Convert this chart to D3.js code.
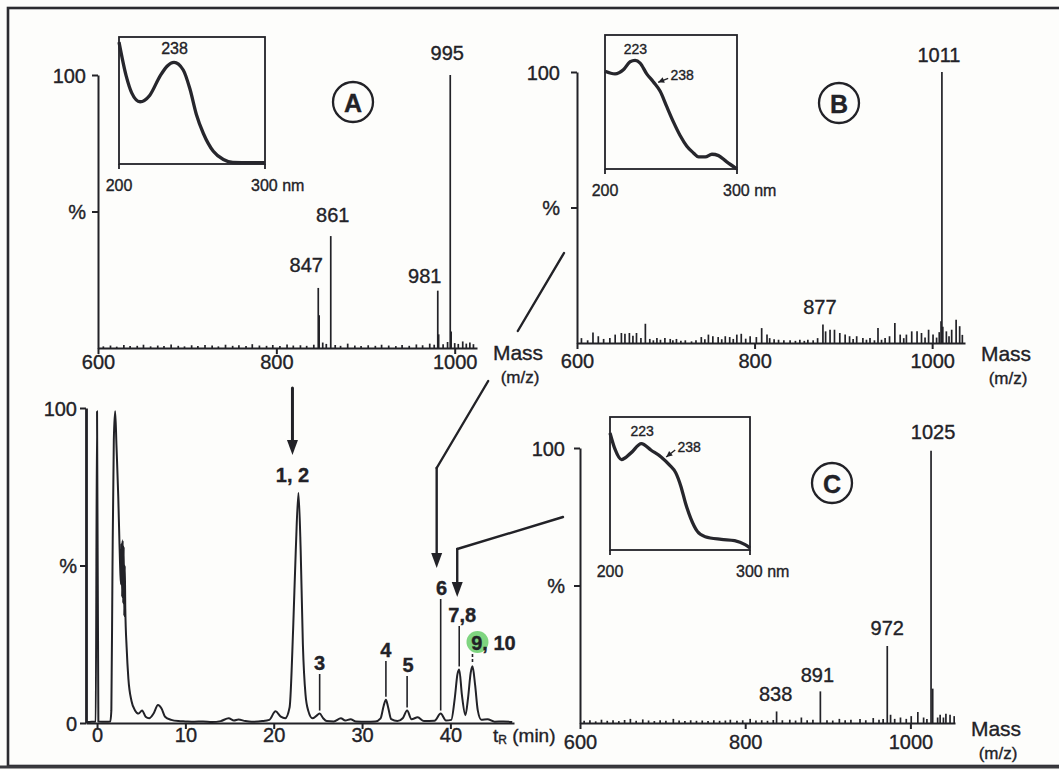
<!DOCTYPE html>
<html>
<head>
<meta charset="utf-8">
<script src="https://cdn.jsdelivr.net/npm/d3@7"></script>
<style>
  html, body { margin: 0; padding: 0; background: #fdfdfb; }
  svg { display: block; }
  text { font-family: "Liberation Sans", Arial, Helvetica, sans-serif; fill: #222227; stroke: #222227; stroke-width: 0.35px; }
</style>
</head>
<body>
<svg id="fig" width="1059" height="770"></svg>
<script>
// ---------------- Data ----------------
// HPLC chromatogram: retention time (min) and relative abundance (%)
const chromTime = [-1.25, -0.6, -0.15, 0, 0.15, 1.0, 1.5, 1.62, 1.75, 1.9, 2.05, 2.2, 2.4, 2.55, 2.65,
  2.72, 2.78, 2.84, 2.9, 2.96, 3.02, 3.08, 3.14, 3.2, 3.35, 3.55, 3.9, 4.3, 4.7, 5.1, 5.5, 5.9, 6.4, 6.9, 7.3,
  7.7, 8.4, 9.2, 10, 11, 12, 13, 14, 14.9, 15.5, 16, 16.8, 17.5, 18.7, 19.5, 20.2, 20.8, 21.3, 21.8, 22.2,
  22.5, 22.8, 23.05, 23.3, 23.6, 23.9, 24.4, 24.8, 25.2, 25.6, 26, 26.8, 27.6, 28.1, 28.7, 29.3, 30.5, 31.5,
  32.1, 32.45, 32.7, 32.95, 33.3, 34, 34.6, 35.1, 35.6, 36.3, 37, 38.2, 38.9, 39.5, 40.1, 40.5, 40.8, 41.0,
  41.3, 41.7, 42.0, 42.3, 42.5, 42.8, 43.1, 43.5, 44.2, 45, 46, 47];
const chromAbund = [0.3, 0.4, 0.5, 99, 0.5, 0.4, 0.5, 4, 50, 90, 99, 88, 72, 56, 47,
  44, 57, 40, 58, 38, 56, 34, 50, 36, 24, 14, 7, 4, 3, 4, 2, 1.5, 3, 5.7, 4.6,
  2, 1, 0.6, 0.5, 0.4, 0.5, 0.3, 0.6, 1.5, 0.8, 1.1, 0.6, 0.4, 0.6, 1, 3.7, 2, 1.5, 5, 30,
  55, 73, 55, 25, 9, 4, 1.5, 2.2, 3, 1.5, 0.6, 0.5, 1.5, 0.8, 1.2, 0.5, 0.4, 0.5,
  1.5, 5.5, 7.4, 5, 1.2, 0.6, 1.5, 4, 1.2, 1.8, 0.6, 0.7, 3, 0.8, 1, 8, 15.5, 17,
  9, 2.5, 8, 16, 18, 12, 4, 1, 1.2, 0.4, 0.5, 0.3];
const chromTicks = [0, 10, 20, 30, 40];
const peakNames = ["1, 2", "3", "4", "5", "6", "7,8", "9, 10"];
const peakTimes = [22.8, 25.2, 32.7, 35.1, 38.9, 41.0, 42.5];
const peakAbund = [73, 3, 7.4, 4, 3, 17, 18];

// Mass spectra: m/z and relative intensity (%)
const massTicks = [600, 800, 1000];

const specA_mz = [606, 614, 621, 629, 636, 644, 651, 659, 667, 674, 682, 690, 697, 705, 712, 720, 728, 735,
  743, 751, 758, 766, 773, 781, 789, 796, 804, 812, 819, 827, 834, 842, 847, 848, 852, 856, 861, 866, 872,
  880, 888, 895, 903, 911, 918, 926, 934, 941, 949, 957, 964, 972, 977, 981, 982, 987, 992, 995, 996, 1000,
  1004, 1009, 1013, 1017, 1021];
const specA_int = [0.6, 0.9, 0.5, 1.1, 0.7, 0.8, 1.2, 0.6, 0.9, 0.7, 1.3, 0.8, 0.6, 1.0, 0.7, 1.1, 0.9, 0.6,
  1.2, 0.8, 1.0, 0.7, 1.4, 0.9, 0.8, 1.1, 0.7, 1.3, 0.9, 1.0, 0.8, 1.2, 22, 12, 2.0, 1.5, 41, 1.1, 0.8,
  1.6, 0.9, 0.7, 1.0, 0.8, 1.2, 0.9, 0.7, 1.1, 0.8, 1.3, 1.0, 1.6, 1.2, 21, 5, 1.4, 2.2, 100, 6, 1.8,
  1.5, 2.4, 1.6, 2.0, 1.4];
const specA_labels = [847, 861, 981, 995];

const specB_mz = [605, 612, 618, 624, 630, 637, 643, 650, 654, 659, 663, 667, 672, 677, 682, 686, 690, 694,
  699, 705, 708, 712, 717, 722, 729, 734, 740, 744, 748, 753, 759, 763, 767, 772, 776, 780, 785, 790, 795,
  802, 808, 814, 817, 822, 827, 833, 840, 846, 851, 856, 860, 866, 871, 877, 880, 885, 890, 896, 902, 907,
  911, 915, 922, 926, 930, 935, 939, 943, 947, 952, 958, 964, 968, 971, 977, 983, 988, 992, 996, 1001,
  1005, 1008, 1010, 1011, 1012, 1016, 1019, 1022, 1027, 1031, 1034];
const specB_int = [1.8, 1.0, 3.9, 2.5, 1.5, 1.8, 3.1, 3.7, 3.4, 3.7, 2.7, 3.7, 1.8, 7.1, 1.5, 1.0, 1.8, 1.2,
  1.8, 1.5, 1.0, 1.5, 0.8, 1.0, 0.6, 1.0, 2.2, 1.4, 3.1, 2.5, 2.2, 1.4, 2.5, 2.2, 1.5, 3.1, 3.4, 1.6, 2.5,
  2.2, 5.5, 3.1, 1.8, 1.4, 1.2, 1.0, 1.0, 0.8, 1.2, 0.8, 1.2, 1.0, 1.8, 6.8, 4.3, 4.9, 4.9, 3.7, 3.1, 2.5,
  1.5, 2.5, 1.8, 1.2, 1.8, 1.0, 5.5, 1.2, 1.8, 2.5, 7.4, 3.1, 1.8, 3.1, 4.3, 4.3, 3.7, 2.0, 4.9, 3.1,
  2.0, 4.0, 8.0, 100, 6.0, 4.3, 2.5, 4.9, 8.6, 6.2, 3.0];
const specB_labels = [877, 1011];

const specC_mz = [605, 612, 619, 626, 633, 640, 647, 654, 661, 668, 676, 683, 690, 697, 704, 713, 720, 727,
  734, 741, 748, 755, 762, 769, 776, 782, 790, 797, 806, 813, 820, 827, 834, 838, 845, 854, 861, 868, 875,
  882, 891, 899, 906, 914, 921, 928, 939, 946, 955, 962, 967, 972, 976, 981, 988, 995, 1001, 1009, 1016,
  1020, 1025, 1027, 1033, 1036, 1040, 1043, 1048, 1053];
const specC_int = [0.8, 1.0, 0.6, 1.2, 0.8, 1.0, 0.7, 1.1, 1.5, 0.8, 1.3, 0.9, 0.7, 1.0, 0.8, 1.5, 0.9, 0.7,
  1.0, 0.8, 0.9, 0.7, 1.0, 0.8, 0.9, 1.2, 0.8, 1.0, 1.5, 0.9, 1.0, 0.8, 1.1, 4.2, 1.0, 1.2, 0.9, 2.0, 1.0,
  1.2, 11.5, 1.0, 0.9, 1.5, 1.0, 1.2, 1.5, 1.0, 1.8, 1.2, 1.5, 28, 3.0, 1.5, 2.0, 1.5, 2.5, 4.0, 2.0,
  1.5, 99, 12.5, 2.0, 3.0, 2.0, 3.4, 3.0, 2.5];
const specC_labels = [838, 891, 972, 1025];

// UV spectra (200-300 nm), normalised absorbance
const uvA_nm  = [200, 205, 208.7, 214.4, 221, 228, 232.9, 237.7, 244, 248.6, 253, 257.8, 264.6, 271.5, 278, 290, 300];
const uvA_abs = [0.96, 0.69, 0.56, 0.49, 0.54, 0.69, 0.77, 0.80, 0.74, 0.59, 0.39, 0.24, 0.10, 0.035, 0.012, 0.01, 0.01];
const uvA_marks = [238];

const uvB_nm  = [200, 207.6, 213.9, 219, 222.8, 226.6, 231.6, 236.7, 241.8, 246.8, 251.9, 256.9, 262, 267, 270.9, 276, 281, 286, 292, 300];
const uvB_abs = [0.73, 0.71, 0.74, 0.80, 0.81, 0.79, 0.71, 0.65, 0.58, 0.465, 0.35, 0.25, 0.17, 0.12, 0.09, 0.09, 0.11, 0.10, 0.055, 0.0];
const uvB_marks = [223, 238];

const uvC_nm  = [200, 203.5, 208.2, 215, 222.4, 229.4, 236.5, 242.4, 247, 250.6, 254, 257.6, 262.4, 268, 279.5, 289, 296.5, 300];
const uvC_abs = [0.88, 0.76, 0.68, 0.73, 0.80, 0.75, 0.70, 0.64, 0.58, 0.48, 0.35, 0.24, 0.14, 0.10, 0.08, 0.07, 0.04, 0.015];
const uvC_marks = [223, 238];

// ---------------- Drawing ----------------
const INK = "#222227";
const svg = d3.select("#fig");
const FONT = 20;

// page frame
svg.append("rect").attr("x", 8).attr("y", 8).attr("width", 1080).attr("height", 758)
  .attr("fill", "#fdfdfb").attr("stroke", "#2b2b30").attr("stroke-width", 2.6);

function styleAxis(g) {
  g.selectAll("path.domain").attr("stroke", INK).attr("stroke-width", 2);
  g.selectAll(".tick line").attr("stroke", INK).attr("stroke-width", 2);
  g.selectAll(".tick text").attr("font-size", FONT).attr("fill", INK);
}

// ---- mass spectrum panels ----
function massPanel(cfg) {
  const x = d3.scaleLinear().domain(cfg.dom).range([cfg.x0, cfg.x1]);
  const y = d3.scaleLinear().domain([0, 100]).range([cfg.yBase, cfg.yTop]);
  const g = svg.append("g");

  const pts = d3.zip(cfg.mz, cfg.inten);
  g.append("g").selectAll("line").data(pts).join("line")
    .attr("x1", d => x(d[0])).attr("x2", d => x(d[0]))
    .attr("y1", y(0)).attr("y2", d => y(d[1]))
    .attr("stroke", INK).attr("stroke-width", 1.7);

  const ax = g.append("g").attr("transform", `translate(0,${cfg.yBase})`)
    .call(d3.axisBottom(x).tickValues(massTicks).tickSize(6).tickSizeOuter(0).tickFormat(d3.format("d")));
  styleAxis(ax);
  ax.selectAll(".tick text").attr("y", cfg.tickLabelDy).attr("dy", "0.35em");

  const ay = g.append("g").attr("transform", `translate(${cfg.x0},0)`)
    .call(d3.axisLeft(y).tickValues([50, 100]).tickSize(6).tickSizeOuter(0)
      .tickFormat(d => d === 100 ? "100" : "%"));
  styleAxis(ay);
  ay.selectAll(".tick text").attr("x", -cfg.yLabelPad).attr("dy", "0.35em");

  // m/z labels over peaks
  cfg.labels.forEach((m, i) => {
    const v = cfg.inten[cfg.mz.indexOf(m)];
    g.append("text").attr("x", x(m) + cfg.labelOff[i][0]).attr("y", y(v) + cfg.labelOff[i][1])
      .attr("text-anchor", "middle").attr("dominant-baseline", "central")
      .attr("font-size", FONT).text(m);
  });

  // axis title
  g.append("text").attr("x", cfg.x1 + 41).attr("y", cfg.yBase + cfg.titleDy)
    .attr("text-anchor", "middle").attr("dominant-baseline", "central")
    .attr("font-size", 21).text("Mass");
  g.append("text").attr("x", cfg.x1 + 43).attr("y", cfg.yBase + cfg.titleDy + 25)
    .attr("text-anchor", "middle").attr("dominant-baseline", "central")
    .attr("font-size", 17).text("(m/z)");

  // circled panel letter
  g.append("circle").attr("cx", cfg.letterPos[0]).attr("cy", cfg.letterPos[1]).attr("r", 20)
    .attr("fill", "none").attr("stroke", INK).attr("stroke-width", 2.3);
  g.append("text").attr("x", cfg.letterPos[0]).attr("y", cfg.letterPos[1] + 1)
    .attr("text-anchor", "middle").attr("dominant-baseline", "central")
    .attr("font-size", 25).attr("font-weight", "bold").text(cfg.letter);

  // UV inset
  const b = cfg.inset;
  const ux = d3.scaleLinear().domain([200, 300]).range([b.x0, b.x1]);
  const uy = d3.scaleLinear().domain([0, 1]).range([b.y1, b.y0]);
  const gi = g.append("g");
  gi.append("rect").attr("x", b.x0).attr("y", b.y0).attr("width", b.x1 - b.x0).attr("height", b.y1 - b.y0)
    .attr("fill", "none").attr("stroke", INK).attr("stroke-width", 1.8);
  gi.selectAll("line.tk").data([200, 300]).join("line")
    .attr("x1", d => ux(d)).attr("x2", d => ux(d)).attr("y1", b.y1).attr("y2", b.y1 + 5)
    .attr("stroke", INK).attr("stroke-width", 1.8);
  gi.append("text").attr("x", ux(200)).attr("y", b.y1 + 21).attr("text-anchor", "middle")
    .attr("dominant-baseline", "central").attr("font-size", 16).text("200");
  gi.append("text").attr("x", ux(300) - 14).attr("y", b.y1 + 21).attr("text-anchor", "start")
    .attr("dominant-baseline", "central").attr("font-size", 16).text("300 nm");
  const uvPts = d3.zip(cfg.uvNm, cfg.uvAbs);
  gi.append("path").datum(uvPts)
    .attr("d", d3.line().x(d => ux(d[0])).y(d => uy(d[1])).curve(d3.curveMonotoneX))
    .attr("fill", "none").attr("stroke", "#26262c").attr("stroke-width", 3.3)
    .attr("stroke-linejoin", "round");

  const uvAt = nm => {
    const i = d3.bisector(d => d).left(cfg.uvNm, nm);
    if (i <= 0) return cfg.uvAbs[0];
    const t = (nm - cfg.uvNm[i - 1]) / (cfg.uvNm[i] - cfg.uvNm[i - 1]);
    return cfg.uvAbs[i - 1] + t * (cfg.uvAbs[i] - cfg.uvAbs[i - 1]);
  };
  cfg.uvMarks.forEach((nm, i) => {
    const px = ux(nm), py = uy(uvAt(nm));
    const o = cfg.uvMarkOff[i];
    gi.append("text").attr("x", px + o[0]).attr("y", py + o[1])
      .attr("text-anchor", "middle").attr("dominant-baseline", "central")
      .attr("font-size", cfg.uvFont).text(nm);
    if (o[2]) {
      // pointer from the label to the shoulder
      const sx = px + o[0] - 14, sy = py + o[1] + 3;
      gi.append("line").attr("x1", sx).attr("y1", sy).attr("x2", px + 3).attr("y2", py - 2)
        .attr("stroke", INK).attr("stroke-width", 1.4);
      const ang = Math.atan2((py - 2) - sy, (px + 3) - sx);
      const tip = [px + 3, py - 2];
      const l = 6, w = 3;
      const bx = tip[0] - l * Math.cos(ang), by = tip[1] - l * Math.sin(ang);
      gi.append("path").attr("d",
        `M${tip[0]},${tip[1]} L${bx + w * Math.sin(ang)},${by - w * Math.cos(ang)} L${bx - w * Math.sin(ang)},${by + w * Math.cos(ang)} Z`)
        .attr("fill", INK);
    }
  });
  return { x, y };
}

massPanel({
  x0: 98, x1: 477, yBase: 348, yTop: 75, dom: [600, 1025],
  mz: specA_mz, inten: specA_int, labels: specA_labels,
  labelOff: [[-12, -23], [2, -21], [-13, -15], [-3, -22]],
  tickLabelDy: 14, yLabelPad: 12, titleDy: 4,
  letter: "A", letterPos: [353, 102],
  inset: { x0: 119, x1: 265, y0: 37, y1: 164 },
  uvNm: uvA_nm, uvAbs: uvA_abs, uvMarks: uvA_marks, uvMarkOff: [[0, -14, false]], uvFont: 16
});

massPanel({
  x0: 577, x1: 965, yBase: 343, yTop: 72, dom: [600, 1037],
  mz: specB_mz, inten: specB_int, labels: specB_labels,
  labelOff: [[-3, -18], [-3, -17]],
  tickLabelDy: 18, yLabelPad: 17, titleDy: 10,
  letter: "B", letterPos: [839, 103],
  inset: { x0: 605, x1: 737, y0: 35, y1: 169 },
  uvNm: uvB_nm, uvAbs: uvB_abs, uvMarks: uvB_marks, uvMarkOff: [[0, -12, false], [27, -9, true]], uvFont: 14
});

massPanel({
  x0: 580, x1: 955, yBase: 723, yTop: 448, dom: [600, 1054],
  mz: specC_mz, inten: specC_int, labels: specC_labels,
  labelOff: [[-1, -17], [-3, -16], [0, -18], [2, -19]],
  tickLabelDy: 19, yLabelPad: 15, titleDy: 5,
  letter: "C", letterPos: [832, 483],
  inset: { x0: 610, x1: 750, y0: 417, y1: 550 },
  uvNm: uvC_nm, uvAbs: uvC_abs, uvMarks: uvC_marks, uvMarkOff: [[0, -13, false], [26, -12, true]], uvFont: 14
});

// ---- chromatogram ----
const cx = d3.scaleLinear().domain([-1.25, 47.2]).range([86, 514]);
const cy = d3.scaleLinear().domain([0, 100]).range([723, 408]);
const gc = svg.append("g");

gc.append("path").datum(d3.zip(chromTime, chromAbund))
  .attr("d", d3.line().x(d => cx(d[0])).y(d => cy(d[1])).curve(d3.curveMonotoneX))
  .attr("fill", "none").attr("stroke", INK).attr("stroke-width", 2).attr("stroke-linejoin", "round");

const cax = gc.append("g").attr("transform", `translate(0,${cy(0)})`)
  .call(d3.axisBottom(cx).tickValues(chromTicks).tickSize(6).tickSizeOuter(0));
styleAxis(cax);
cax.selectAll(".tick text").attr("y", 12).attr("dy", "0.35em");

const cay = gc.append("g").attr("transform", `translate(${cx.range()[0]},0)`)
  .call(d3.axisLeft(cy).tickValues([0, 50, 100]).tickSize(6).tickSizeOuter(0)
    .tickFormat(d => d === 100 ? "100" : d === 50 ? "%" : "0"));
styleAxis(cay);
cay.select("path.domain").attr("stroke-width", 2.8);
cay.selectAll(".tick text").attr("x", -9).attr("dy", "0.35em");

const tl = gc.append("text").attr("x", 493).attr("y", 735).attr("dominant-baseline", "central")
  .attr("font-size", 19);
tl.append("tspan").text("t");
tl.append("tspan").attr("font-size", 12).attr("dy", 5).text("R");
tl.append("tspan").attr("dy", -5).text(" (min)");

// peak labels with leader lines
const labelY = [475, 663, 650, 665, 588, 615, 643];
const labelDx = [-6, 0, 0, 1, 1, 3, 21];
peakNames.forEach((name, i) => {
  const px = cx(peakTimes[i]);
  const ly = labelY[i];
  if (name === "9, 10") {
    gc.append("circle").attr("cx", px + labelDx[i] - 16).attr("cy", ly - 1).attr("r", 11)
      .attr("fill", "#5fcb62").attr("opacity", 0.8);
  }
  gc.append("text").attr("x", px + labelDx[i]).attr("y", ly)
    .attr("text-anchor", "middle").attr("dominant-baseline", "central")
    .attr("font-size", 20).attr("font-weight", "bold").text(name);
  if (i > 0) {
    gc.append("line").attr("x1", px).attr("x2", px).attr("y1", ly + 11).attr("y2", cy(peakAbund[i]) - 3)
      .attr("stroke", INK).attr("stroke-width", 1.6)
      .attr("stroke-dasharray", name === "9, 10" ? "3,2" : null);
  }
});

// ---- arrows linking spectra to chromatogram peaks ----
function arrowHead(x, yTip) {
  svg.append("path").attr("d", `M${x},${yTip} L${x - 5.5},${yTip - 15} L${x + 5.5},${yTip - 15} Z`)
    .attr("fill", INK);
}
function seg(x1, y1, x2, y2, w) {
  svg.append("line").attr("x1", x1).attr("y1", y1).attr("x2", x2).attr("y2", y2)
    .attr("stroke", INK).attr("stroke-width", w || 2.4).attr("stroke-linecap", "round");
}
// spectrum A -> peak 1,2
const a1 = cx(peakTimes[0]) - 6;
seg(a1, 388, a1, 442, 3);
arrowHead(a1, 455);
// spectrum B -> peak 6
const a6 = cx(peakTimes[4]) - 4;
const p0 = [564, 253], p1 = [a6, 468];
const at = yv => p0[0] + (p1[0] - p0[0]) * (yv - p0[1]) / (p1[1] - p0[1]);
seg(p0[0], p0[1], at(331), 331);
seg(at(381), 381, p1[0], p1[1]);
seg(a6, 468, a6, 555);
arrowHead(a6, 568);
// spectrum C -> peaks 7,8
const a7 = cx(peakTimes[5]) - 2;
seg(563, 517, a7, 549);
seg(a7, 549, a7, 584);
arrowHead(a7, 597);

// bottom edge of the sheet
svg.append("line").attr("x1", 0).attr("x2", 1059).attr("y1", 767).attr("y2", 767)
  .attr("stroke", "#3a3a3e").attr("stroke-width", 3);
</script>
</body>
</html>
